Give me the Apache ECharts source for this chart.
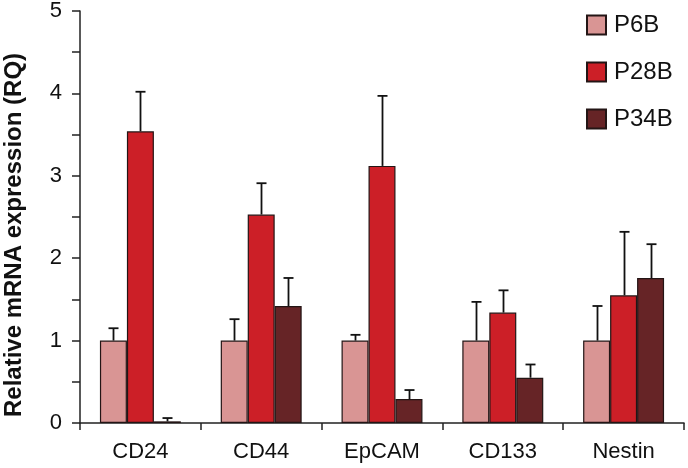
<!DOCTYPE html>
<html>
<head>
<meta charset="utf-8">
<script src="https://cdn.jsdelivr.net/npm/echarts@6/dist/echarts.min.js"></script>
<style>html,body{margin:0;padding:0;background:#fff}#c{width:688px;height:468px}</style>
</head>
<body>
<div id="c"></div>
<script>
var categories = ['CD24', 'CD44', 'EpCAM', 'CD133', 'Nestin'];
var seriesNames = ['P6B', 'P28B', 'P34B'];
var p6b = [1.0, 1.0, 1.0, 1.0, 1.0];
var p28b = [3.54, 2.53, 3.12, 1.34, 1.55];
var p34b = [0.02, 1.42, 0.29, 0.55, 1.76];
var p6bErr = [1.15, 1.26, 1.07, 1.47, 1.42];
var p28bErr = [4.02, 2.91, 3.97, 1.61, 2.32];
var p34bErr = [0.06, 1.76, 0.40, 0.71, 2.17];
var yTicks = [0, 1, 2, 3, 4, 5];

var colors = ['#d99594', '#cc1f27', '#662426'];
var values = [p6b, p28b, p34b];
var errs = [p6bErr, p28bErr, p34bErr];
var FONT = '"Liberation Sans", Arial, Helvetica, sans-serif';

var series = [];
seriesNames.forEach(function (name, i) {
  series.push({
    name: name,
    type: 'bar',
    data: values[i],
    barGap: '0%',
    barCategoryGap: '33%',
    itemStyle: { color: colors[i], borderColor: '#231515', borderWidth: 1.2 },
    emphasis: { disabled: true }
  });
});
seriesNames.forEach(function (name, i) {
  series.push({
    type: 'custom',
    name: name + ' error',
    z: 5,
    silent: true,
    data: categories.map(function (c, k) { return [k, values[i][k], errs[i][k]]; }),
    renderItem: function (params, api) {
      var base = api.coord([api.value(0), api.value(1)]);
      var top = api.coord([api.value(0), api.value(2)]);
      var band = api.size([1, 0])[0];
      var bw = band * 0.67 / 3;
      var x = Math.round(base[0] + (i - 1) * bw) + 0.5;
      var half = 5;
      var st = { stroke: '#111', lineWidth: 1.8 };
      return {
        type: 'group',
        children: [
          { type: 'line', shape: { x1: x, y1: base[1], x2: x, y2: top[1] }, style: st },
          { type: 'line', shape: { x1: x - half, y1: top[1], x2: x + half, y2: top[1] }, style: st }
        ]
      };
    }
  });
});

var chart = echarts.init(document.getElementById('c'), null, { renderer: 'canvas' });
chart.setOption({
  animation: false,
  backgroundColor: '#fff',
  grid: { left: 80, right: 4, top: 11, bottom: 45, containLabel: false, outerBoundsMode: 'none' },
  legend: {
    data: seriesNames,
    orient: 'vertical',
    left: 581,
    top: 8,
    itemWidth: 19,
    itemHeight: 19,
    itemGap: 23,
    icon: 'rect',
    textStyle: { fontFamily: FONT, fontSize: 24, color: '#111', padding: [0, 0, 0, 3] },
    selectedMode: false
  },
  xAxis: {
    type: 'category',
    data: categories,
    axisLine: { lineStyle: { color: '#222', width: 1.5 } },
    axisTick: { show: true, length: 7, lineStyle: { color: '#222', width: 1.5 } },
    axisLabel: { fontFamily: FONT, fontSize: 22, color: '#111', margin: 18 }
  },
  yAxis: {
    type: 'value',
    min: 0,
    max: 5,
    interval: 0.5,
    name: 'Relative mRNA expression (RQ)',
    nameLocation: 'middle',
    nameGap: 54,
    nameTextStyle: { fontFamily: FONT, fontSize: 24, fontWeight: 'bold', color: '#111', padding: [0, 36, 0, 0] },
    axisLine: { show: true, lineStyle: { color: '#222', width: 1.5 } },
    axisTick: { show: true, length: 8, lineStyle: { color: '#222', width: 1.5 } },
    splitLine: { show: false },
    axisLabel: {
      fontFamily: FONT, fontSize: 22, color: '#111', margin: 18,
      formatter: function (v) { return yTicks.indexOf(v) >= 0 ? String(v) : ''; }
    }
  },
  series: series
});
</script>
</body>
</html>
